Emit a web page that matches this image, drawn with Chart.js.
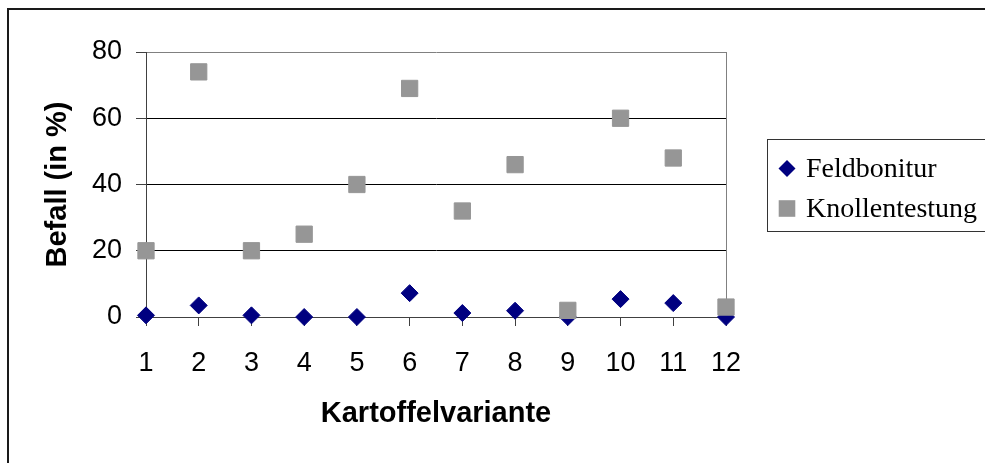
<!DOCTYPE html>
<html>
<head>
<meta charset="utf-8">
<script src="https://cdn.jsdelivr.net/npm/chart.js@4.4.1/dist/chart.umd.min.js"></script>
<style>
html,body{margin:0;padding:0;background:#fff;}
#wrap{width:985px;height:463px;position:relative;overflow:hidden;}
canvas{display:block;}
</style>
</head>
<body>
<div id="wrap"><canvas id="c" width="985" height="463"></canvas></div>
<script>
// ---- data ----
const categories = ['1','2','3','4','5','6','7','8','9','10','11','12'];
const feldbonitur = [0.5, 3.5, 0.5, 0, 0, 7.2, 1.2, 1.9, 0, 5.4, 4.2, 0];
const knollentestung = [20, 74, 20, 25, 40, 69, 32, 46, 2, 60, 48, 3];
const yTickValues = [0, 20, 40, 60, 80];
const seriesNames = ['Feldbonitur', 'Knollentestung'];
const xAxisTitle = 'Kartoffelvariante';
const yAxisTitle = 'Befall (in %)';

const NAVY = '#000080';
const GRAY = '#969696';
const SANS = "'Liberation Sans', Arial, sans-serif";
const SERIF = "'Liberation Serif', 'Times New Roman', serif";

const framePlugin = {
  id: 'frame',
  afterDraw(chart) {
    const ctx = chart.ctx;
    ctx.save();
    // outer chart border (only left/top visible)
    ctx.strokeStyle = '#1a1a1a';
    ctx.lineWidth = 2;
    ctx.strokeRect(8, 9, 1200, 1200);

    // legend box
    ctx.strokeStyle = '#333';
    ctx.lineWidth = 1;
    ctx.strokeRect(767.5, 139.5, 400, 92);

    const ds = chart.data.datasets;
    const entries = [
      {label: ds[1].label, color: ds[1].backgroundColor, style: 'rectRot', cy: 168.5},
      {label: ds[0].label, color: ds[0].backgroundColor, style: 'rect', cy: 208.5}
    ];
    ctx.font = '28px ' + SERIF;
    ctx.textBaseline = 'alphabetic';
    ctx.textAlign = 'left';
    entries.forEach(e => {
      const cx = 787;
      ctx.fillStyle = e.color;
      ctx.beginPath();
      if (e.style === 'rectRot') {
        const r = 8.5;
        ctx.moveTo(cx, e.cy - r);
        ctx.lineTo(cx + r, e.cy);
        ctx.lineTo(cx, e.cy + r);
        ctx.lineTo(cx - r, e.cy);
        ctx.closePath();
      } else {
        const h = 8.3;
        ctx.rect(cx - h, e.cy - h, 2 * h, 2 * h);
      }
      ctx.fill();
      ctx.fillStyle = '#000';
      ctx.fillText(e.label, 806, e.cy + 8.5);
    });
    ctx.restore();
  }
};

new Chart(document.getElementById('c'), {
  type: 'line',
  data: {
    labels: categories,
    datasets: [
      {
        label: seriesNames[1],
        data: knollentestung,
        showLine: false,
        pointStyle: 'rect',
        pointRadius: 11.5,
        borderWidth: 1,
        pointBorderWidth: 1,
        backgroundColor: GRAY,
        borderColor: GRAY,
        pointBackgroundColor: GRAY,
        pointBorderColor: GRAY,
        clip: false,
        order: 0
      },
      {
        label: seriesNames[0],
        data: feldbonitur,
        showLine: false,
        pointStyle: 'rectRot',
        pointRadius: 8.5,
        borderWidth: 1,
        pointBorderWidth: 1,
        backgroundColor: NAVY,
        borderColor: NAVY,
        pointBackgroundColor: NAVY,
        pointBorderColor: NAVY,
        clip: false,
        order: 1
      }
    ]
  },
  options: {
    responsive: false,
    animation: false,
    devicePixelRatio: 1,
    events: [],
    layout: { padding: { left: 0, top: 52, right: 259, bottom: 0 } },
    plugins: {
      legend: { display: false },
      tooltip: { enabled: false },
      title: { display: false }
    },
    scales: {
      x: {
        type: 'category',
        offset: false,
        grid: {
          drawOnChartArea: true,
          drawTicks: true,
          tickLength: 9,
          tickColor: '#404040',
          color: (c) => (c.index === categories.length - 1 ? '#808080' : 'rgba(0,0,0,0)'),
          lineWidth: 1
        },
        border: { display: true, color: '#404040', width: 1 },
        ticks: {
          color: '#000',
          padding: 21,
          maxRotation: 0,
          autoSkip: false,
          font: { family: SANS, size: 27 }
        },
        title: {
          display: true,
          text: xAxisTitle,
          color: '#000',
          font: { family: SANS, size: 29, weight: 'bold' },
          padding: { top: 0, bottom: 32 }
        },
        afterFit: (s) => { s.height = 146; }
      },
      y: {
        type: 'linear',
        min: yTickValues[0],
        max: yTickValues[yTickValues.length - 1],
        afterBuildTicks: (s) => { s.ticks = yTickValues.map(v => ({ value: v })); },
        grid: {
          drawTicks: true,
          tickLength: 10,
          tickColor: '#404040',
          color: (c) => (c.tick && c.tick.value === yTickValues[yTickValues.length - 1] ? '#808080' : '#000'),
          lineWidth: 1
        },
        border: { display: true, color: '#404040', width: 1 },
        ticks: {
          color: '#000',
          padding: 14,
          font: { family: SANS, size: 27 }
        },
        title: {
          display: true,
          text: yAxisTitle,
          color: '#000',
          font: { family: SANS, size: 29, weight: 'bold' },
          padding: { top: 41, bottom: 0 }
        },
        afterFit: (s) => { s.width = 146; }
      }
    }
  },
  plugins: [framePlugin]
});
</script>
</body>
</html>
